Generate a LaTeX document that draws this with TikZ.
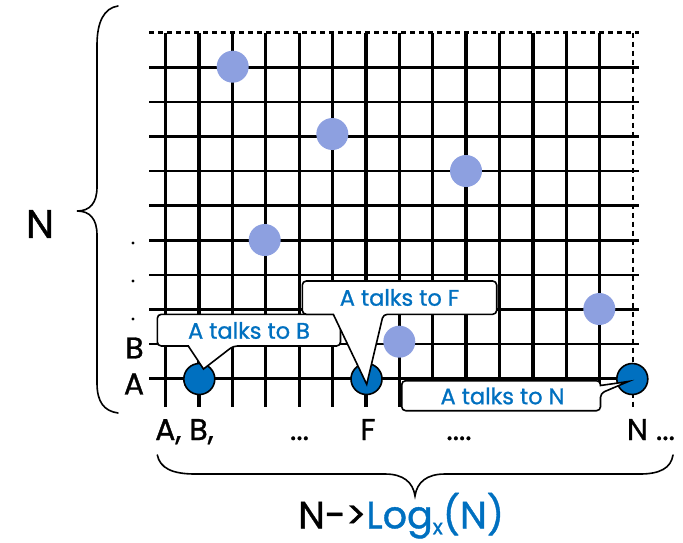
\documentclass[tikz,border=0pt]{standalone}
\usepackage{fontspec}
\setmainfont{Poppins}[FakeBold=1]
\definecolor{darkdot}{HTML}{0070C0}
\definecolor{lightdot}{HTML}{8DA0E0}
\definecolor{talkblue}{HTML}{0070C0}
\begin{document}
\begin{tikzpicture}[x=1pt,y=-1pt,
  hline/.style={line width=2.6pt},
  vline/.style={line width=3.3pt},
  dashline/.style={line width=2.6pt,dash pattern=on 5pt off 4pt},
  peer/.style={circle,fill=lightdot,minimum size=32pt,inner sep=0pt},
  talker/.style={circle,fill=darkdot,draw=black,line width=1.6pt,minimum size=31pt,inner sep=0pt},
  callout/.style={draw=black,fill=white,line width=1.6pt},
  calltext/.style={text=talkblue,font=\fontsize{22.5}{26}\selectfont,inner sep=0pt},
  axislabel/.style={font=\fontsize{30}{36}\selectfont,inner sep=0pt},
  brace/.style={line width=1.6pt,line cap=round}]
\useasboundingbox (0,0) rectangle (683,542);

% grid: rows every 34.6, columns every 33.38
\foreach \j in {0,...,9}
  \draw[hline] (149,{378.7-34.6*\j}) -- (639,{378.7-34.6*\j});
\draw[dashline] (149,32.7) -- (639,32.7);
\foreach \i in {0,...,13}
  \draw[vline] ({165.7+33.38*\i},32.7) -- ({165.7+33.38*\i},407);
\draw[dashline] (633,32.7) -- (633,407);

% other peers
\node[peer] (p1) at (232.7,66.7) {};
\node[peer] (p2) at (332.3,134) {};
\node[peer] (p3) at (466,171) {};
\node[peer] (p4) at (264.7,240) {};
\node[peer] (p5) at (399.3,341.7) {};
\node[peer] (p6) at (599.3,309) {};

% peers that A talks to
\node[talker] (tb) at (199.3,379) {};
\node[talker] (tf) at (366.5,379) {};
\node[talker] (tn) at (632.3,379) {};

% callout tips
\coordinate (tipB) at (203.5,369);
\coordinate (tipF) at (366.7,384.3);
\coordinate (tipN) at (628.3,381.5);

% callouts
\draw[callout] (188.3,346) [rounded corners=4pt] -- (157.3,346) -- (157.3,314.3) -- (340.5,314.3) -- (340.5,346) -- (233.3,346) [sharp corners] -- (tipB) -- cycle;
\node[calltext] (cb) at (249,330.5) {A talks to B};

\draw[callout] (333.3,314.3) [rounded corners=4pt] -- (302.3,314.3) -- (302.3,281) -- (496.7,281) -- (496.7,314.3) -- (383.3,314.3) [sharp corners] -- (tipF) -- cycle;
\node[calltext] (cf) at (399.5,297.5) {A talks to F};

\draw[callout] (600.5,385.5) [rounded corners=4pt] -- (600.5,380.7) -- (401.7,380.7) -- (401.7,410.7) -- (600.5,410.7) -- (600.5,393.3) [sharp corners] -- (tipN) -- cycle;
\node[calltext] (cn) at (502.5,396) {A talks to N};

% row labels
\node[axislabel] (rowA) at (134,384) {A};
\node[axislabel] (rowB) at (134.5,348) {B};
\foreach \y in {243,281,319}
  \fill (133,\y) circle (1.6pt);
\node[font=\fontsize{40}{48}\selectfont,inner sep=0pt] (rowN) at (40,224) {N};

% left brace
\draw[brace] (118,6) .. controls (104,8) and (97,22) .. (97,45)
  -- (97,187) .. controls (97,203) and (90,211) .. (77,211)
  .. controls (90,211) and (97,219) .. (97,235)
  -- (97,383) .. controls (97,402) and (104,411) .. (118,413);

% column labels
\node[axislabel,anchor=base west] (colAB) at (155,440) {A, B,};
\node[axislabel,anchor=base] (dots1) at (299.5,440) {...};
\node[axislabel,anchor=base] (colF) at (368,440) {F};
\node[axislabel,anchor=base] (dots2) at (459,440) {....};
\node[axislabel,anchor=base west] (colN) at (626.7,440) {N ...};

% bottom brace
\draw[brace] (157.3,455) .. controls (160,468) and (172,474) .. (195,474)
  -- (385,474) .. controls (403,474) and (413,482) .. (415,496)
  .. controls (417,482) and (427,474) .. (445,474)
  -- (640,474) .. controls (660,474) and (671,468) .. (673,455);

% scaling label
\node[font=\fontsize{38}{44}\selectfont,inner sep=0pt,anchor=base west] (cost) at (298,528.3)
  {N-{}>\textcolor{talkblue}{Log\raisebox{-6pt}{\fontsize{21}{21}\selectfont x}(N)}};
\end{tikzpicture}
\end{document}
